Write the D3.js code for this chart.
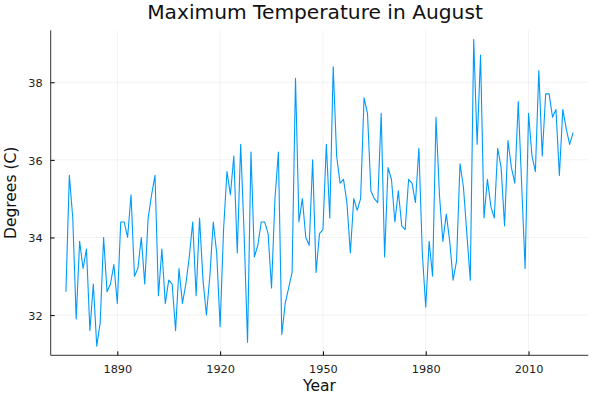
<!DOCTYPE html>
<html>
<head>
<meta charset="utf-8">
<script src="https://cdn.jsdelivr.net/npm/d3@7"></script>
<style>
  html, body { margin: 0; padding: 0; background: #fff; }
  svg { display: block; font-family: "DejaVu Sans", sans-serif; }
</style>
</head>
<body>
<svg id="chart" width="600" height="400"></svg>
<script>
const startYear = 1875;
const temps = [
  32.6, 35.6, 34.5, 31.9, 33.9, 33.2, 33.7, 31.6, 32.8, 31.2,
  31.8, 34.0, 32.6, 32.8, 33.3, 32.3, 34.4, 34.4, 34.0, 35.1,
  33.0, 33.2, 34.0, 32.8, 34.5, 35.1, 35.6, 32.5, 33.7, 32.3,
  32.9, 32.8, 31.6, 33.2, 32.3, 32.8, 33.5, 34.4, 32.5, 34.5,
  32.9, 32.0, 33.0, 34.4, 33.6, 31.7, 34.2, 35.7, 35.1, 36.1,
  33.6, 36.4, 34.1, 31.3, 36.2, 33.5, 33.8, 34.4, 34.4, 34.1,
  32.7, 35.0, 36.2, 31.5, 32.3, 32.7, 33.1, 38.1, 34.4, 35.0,
  34.0, 33.8, 36.0, 33.1, 34.1, 34.2, 36.4, 34.5, 38.4, 36.1,
  35.4, 35.5, 34.9, 33.6, 35.0, 34.7, 35.0, 37.6, 37.2, 35.2,
  35.0, 34.9, 37.2, 33.5, 35.8, 35.5, 34.4, 35.2, 34.3, 34.2,
  35.5, 35.4, 34.9, 36.3, 33.6, 32.2, 33.9, 33.0, 37.1, 35.1,
  33.9, 34.6, 33.9, 32.9, 33.4, 35.9, 35.3, 34.1, 32.9, 39.1,
  36.4, 38.7, 34.5, 35.5, 34.8, 34.5, 36.3, 35.8, 34.3, 36.5,
  35.8, 35.4, 37.5, 35.35, 33.2, 37.2, 36.1, 35.7, 38.3, 36.1,
  37.7, 37.7, 37.1, 37.3, 35.6, 37.3, 36.8, 36.4, 36.7
];
const years = temps.map((_, i) => startYear + i);
const xTicks = [1890, 1920, 1950, 1980, 2010];
const yTicks = [32, 34, 36, 38];
const titleText = "Maximum Temperature in August";
const xLabel = "Year";
const yLabel = "Degrees (C)";

const svg = d3.select("#chart");
const pL = 50.7, pR = 588.3, pT = 30.4, pB = 355.3;

function padded(ext) {
  const r = ext[1] - ext[0];
  return [ext[0] - 0.03 * r, ext[1] + 0.03 * r];
}
const x = d3.scaleLinear().domain(padded(d3.extent(years))).range([pL, pR]);
const y = d3.scaleLinear().domain(padded(d3.extent(temps))).range([pB, pT]);

// grid
const grid = svg.append("g").attr("stroke", "#000").attr("stroke-opacity", 0.1).attr("stroke-width", 0.5);
grid.selectAll("line.vx").data(xTicks).join("line").attr("class", "vx")
  .attr("x1", d => x(d)).attr("x2", d => x(d)).attr("y1", pT).attr("y2", pB);
grid.selectAll("line.hy").data(yTicks).join("line").attr("class", "hy")
  .attr("y1", d => y(d)).attr("y2", d => y(d)).attr("x1", pL).attr("x2", pR);

// axes
const xAxis = d3.axisBottom(x).tickValues(xTicks).tickSize(-4).tickPadding(10).tickFormat(d3.format("d"));
const gx = svg.append("g").attr("transform", `translate(0,${pB})`).call(xAxis);
gx.select(".domain").attr("stroke", "#333").attr("stroke-width", 1).attr("d", `M${pL},0H${pR}`);
gx.selectAll(".tick line").attr("stroke", "#000");
gx.selectAll(".tick text").attr("font-size", 11.3).attr("fill", "#222")
  .attr("font-family", "DejaVu Sans, sans-serif");

const yAxis = d3.axisLeft(y).tickValues(yTicks).tickSize(-4).tickPadding(8);
const gy = svg.append("g").attr("transform", `translate(${pL},0)`).call(yAxis);
gy.select(".domain").attr("stroke", "#333").attr("stroke-width", 1).attr("d", `M0,${pT}V${pB}`);
gy.selectAll(".tick line").attr("stroke", "#000");
gy.selectAll(".tick text").attr("font-size", 11.3).attr("fill", "#222").attr("dy", "0.4em")
  .attr("font-family", "DejaVu Sans, sans-serif");

// line
const line = d3.line().x((d, i) => x(years[i])).y(d => y(d));
svg.append("path").datum(temps)
  .attr("fill", "none").attr("stroke", "#009AFA").attr("stroke-width", 1.1)
  .attr("stroke-linejoin", "round").attr("d", line);

// title and labels
svg.append("text").attr("x", 315).attr("y", 18.5).attr("text-anchor", "middle")
  .attr("font-size", 20.2).attr("fill", "#111").text(titleText);
svg.append("text").attr("x", (pL + pR) / 2).attr("y", 391).attr("text-anchor", "middle")
  .attr("font-size", 15.5).attr("fill", "#111").text(xLabel);
svg.append("text").attr("transform", `translate(15.5,${(pT + pB) / 2}) rotate(-90)`)
  .attr("text-anchor", "middle").attr("font-size", 15.5).attr("fill", "#111").text(yLabel);
</script>
</body>
</html>
